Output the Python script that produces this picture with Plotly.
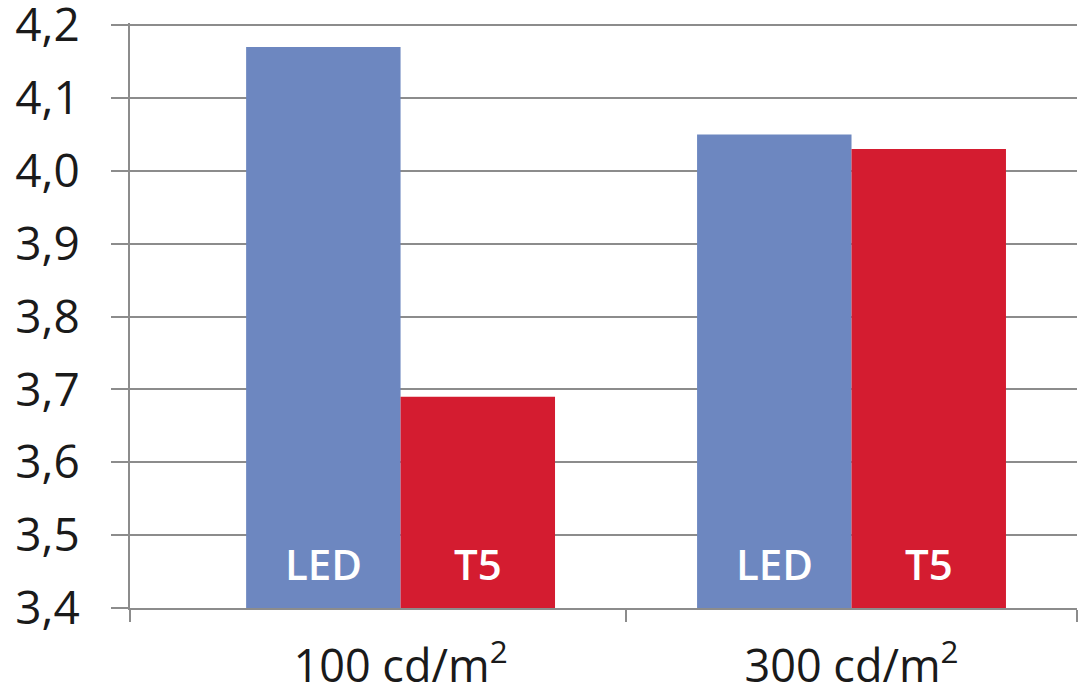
import plotly.graph_objects as go

# Luminance levels (category axis) and measured values per light source
categories = ["100 cd/m<sup>2</sup>", "300 cd/m<sup>2</sup>"]
led_values = [4.17, 4.05]
t5_values = [3.69, 4.03]
series_names = ["LED", "T5"]
y_ticks = [3.4, 3.5, 3.6, 3.7, 3.8, 3.9, 4.0, 4.1, 4.2]

BLUE = "#6D87C0"
RED = "#D41C30"
GRID = "#8C8C8C"
FONT = "Open Sans"
BAR_GAP = 0.315
bar_w = (1 - BAR_GAP) / 2

positions = list(range(len(categories)))

fig = go.Figure()
for name, vals, color in zip(series_names, [led_values, t5_values], [BLUE, RED]):
    fig.add_trace(go.Bar(
        x=positions, y=vals, name=name,
        marker=dict(color=color, line=dict(width=0)),
        hoverinfo="skip",
    ))

# white series names at the foot of each bar
for k, name in enumerate(series_names):
    shift = (k - 0.5) * bar_w
    for p in positions:
        fig.add_annotation(
            x=p + shift, y=y_ticks[0], xref="x", yref="y",
            text=name, showarrow=False, yanchor="middle", yshift=45,
            font=dict(family=FONT, size=42, color="white", weight=600),
        )

fig.update_layout(
    width=1079, height=693,
    margin=dict(l=130, r=2, t=23, b=85),
    paper_bgcolor="white", plot_bgcolor="white",
    barmode="group", bargap=BAR_GAP, bargroupgap=0,
    showlegend=False,
    separators=",.",
    font=dict(family=FONT, size=46, color="#1a1a1a"),
)

fig.update_xaxes(
    range=[-0.6, 1.5],
    tickmode="array", tickvals=positions, ticktext=categories,
    ticks="outside", ticklen=0, tickcolor=GRID,
    ticklabelstandoff=18,
    tickfont=dict(family=FONT, size=45, color="#1a1a1a"),
    showline=True, linecolor=GRID, linewidth=2,
    showgrid=False, zeroline=False, automargin=False,
    minor=dict(tickmode="array", tickvals=[-0.6, 0.5, 1.5],
               ticks="outside", ticklen=12, tickwidth=2, tickcolor=GRID,
               showgrid=False),
)

fig.update_yaxes(
    range=[y_ticks[0], y_ticks[-1] + 0.003],
    tickmode="array", tickvals=y_ticks, tickformat=".1f",
    ticks="outside", ticklen=17, tickwidth=2, tickcolor=GRID,
    ticklabelstandoff=22, ticklabeloverflow="allow",
    tickfont=dict(family=FONT, size=46, color="#1a1a1a"),
    showline=True, linecolor=GRID, linewidth=2,
    showgrid=True, gridcolor=GRID, gridwidth=2,
    zeroline=False, automargin=False,
)

fig.write_html("out.html")
